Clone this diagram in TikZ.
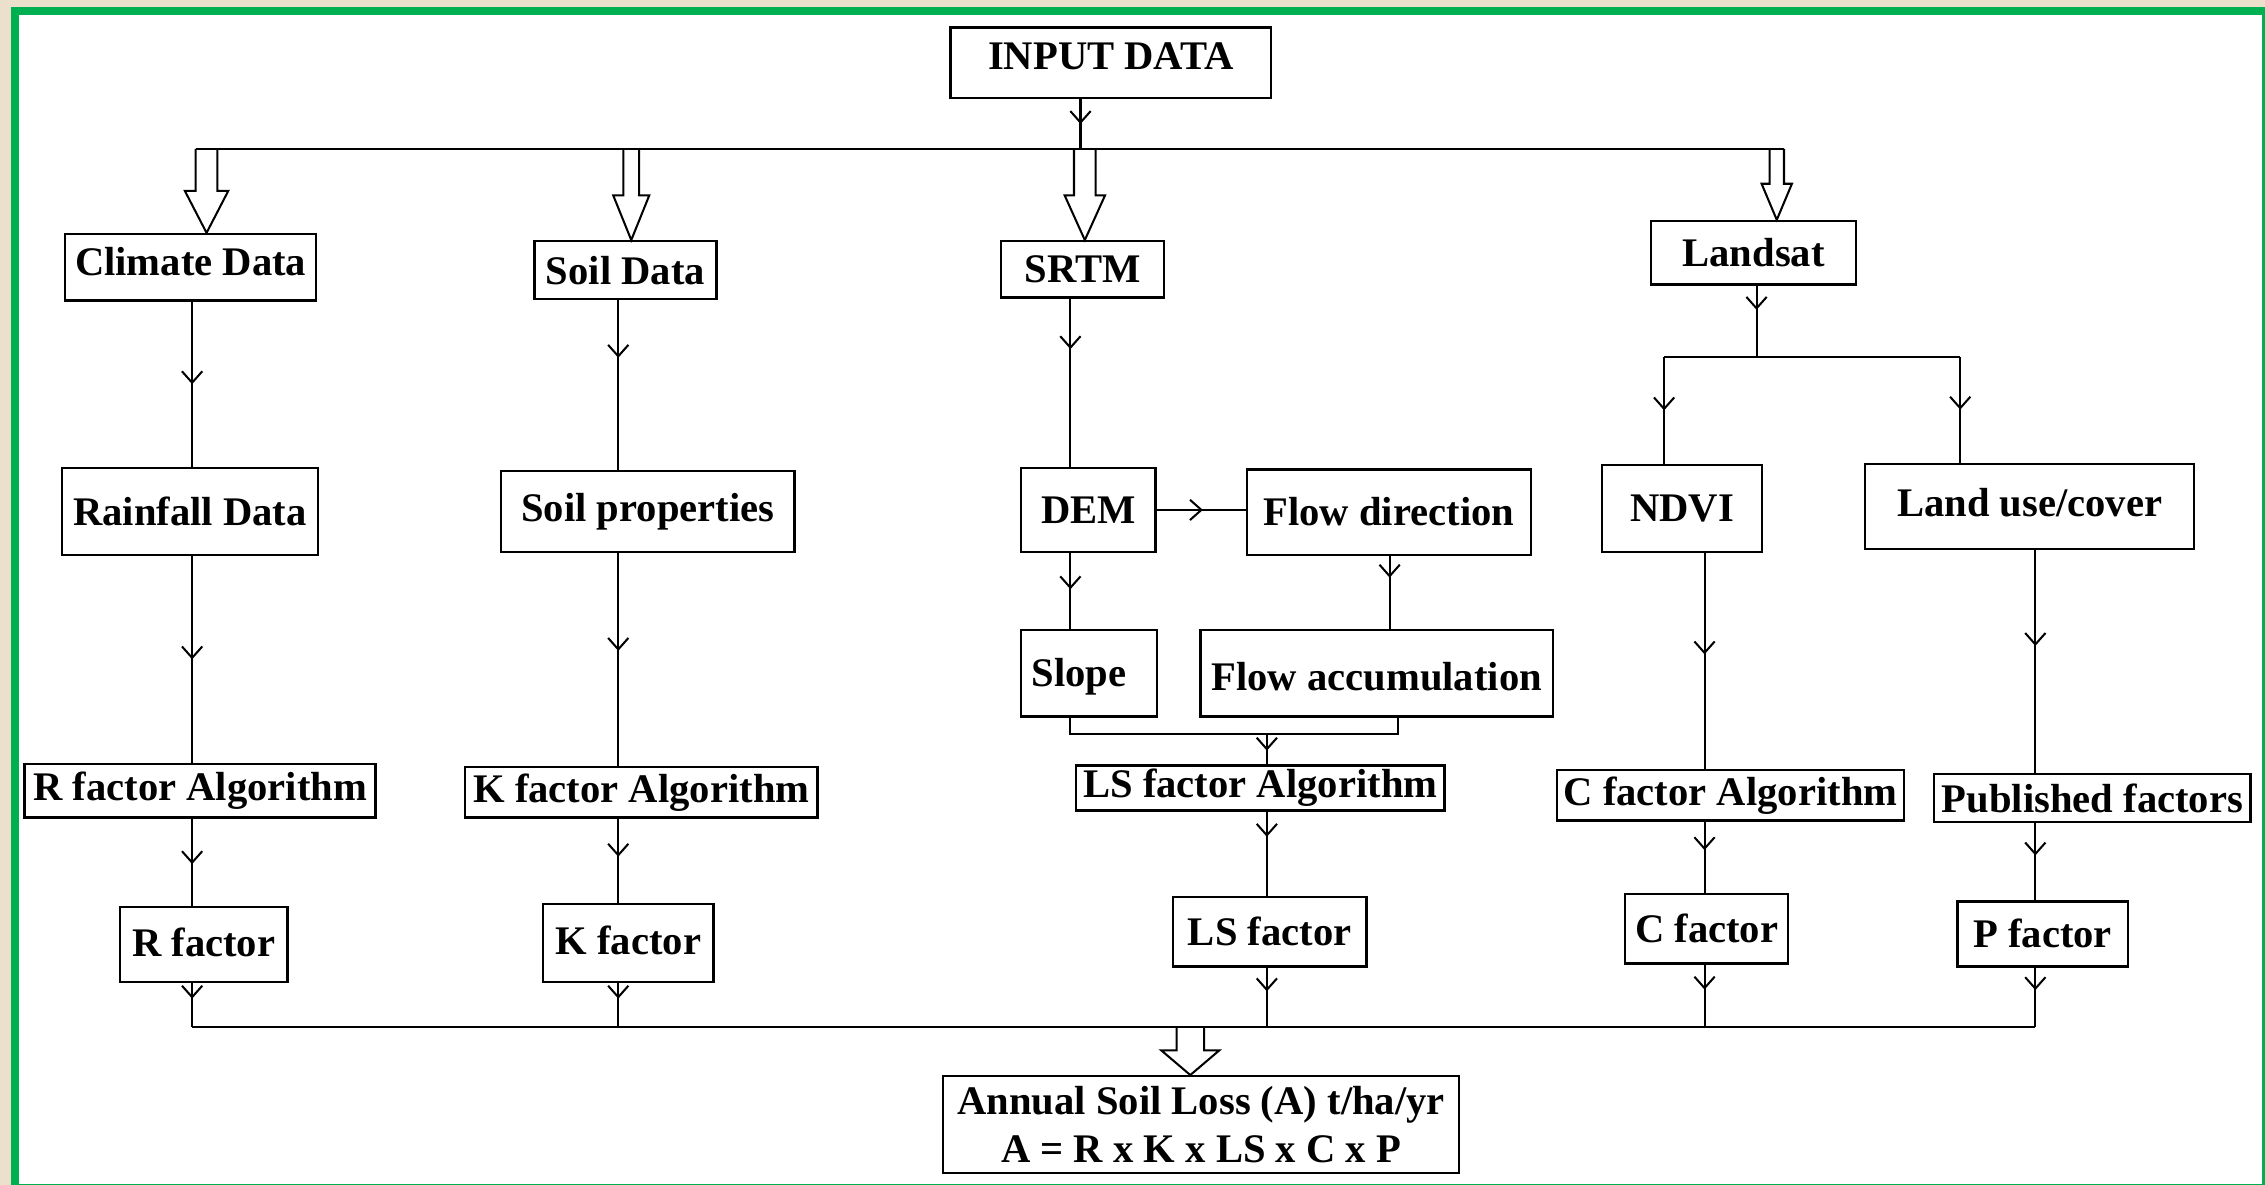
\documentclass[tikz,border=0pt]{standalone}
\usepackage{fontspec}
\setmainfont{Liberation Serif}
\usetikzlibrary{arrows.meta,calc,decorations.markings}
\definecolor{framegreen}{HTML}{00B050}
\definecolor{paper}{HTML}{EBE0CC}

\begin{document}
\begin{tikzpicture}[x=0.02cm, y=-0.02cm,
    font=\fontsize{16}{19}\selectfont\bfseries,
    >={Straight Barb[length=4.5pt,width=8pt]},
    line width=0.8pt,
    box/.style={draw, fill=white, line width=0.9pt, inner sep=1pt, align=center},
    mid/.style={postaction={decorate},
                decoration={markings, mark=at position #1 with {\arrow{>}}}},
    mid/.default=0.5,
    hollow/.style={draw, fill=white, line width=0.8pt}]

  %% ── Page and frame ──────────────────────────────────────────
  \useasboundingbox (0,0) rectangle (1568,820);
  \fill[paper] (0,0) rectangle (1568,820);
  \clip (0,0) rectangle (1568,820);
  \draw[framegreen, line width=0.11cm, fill=white] (10.35,7.6) rectangle (1568.75,822.3);

  %% ── Top: input ──────────────────────────────────────────────
  \node[box, minimum width=4.44cm, minimum height=0.98cm, text depth=0.2cm] (input) at (769,43.5) {INPUT DATA};

  %% ROW 1: data sources
  \node[box, minimum width=3.48cm, minimum height=0.92cm, text depth=0.16cm] (clim) at (132,185) {Climate Data};
  \node[box, minimum width=2.52cm, minimum height=0.80cm] (soil) at (433,187)    {Soil Data};
  \node[box, minimum width=2.26cm, minimum height=0.78cm] (srtm) at (749.5,186.5) {SRTM};
  \node[box, minimum width=2.84cm, minimum height=0.88cm] (land) at (1214,175)   {Landsat};

  %% ROW 2: derived layers
  \node[box, minimum width=3.54cm, minimum height=1.20cm] (rain)  at (131.5,354)  {Rainfall Data};
  \node[box, minimum width=4.06cm, minimum height=1.12cm] (sprop) at (448.5,354)  {Soil properties};
  \node[box, minimum width=1.86cm, minimum height=1.16cm] (dem)   at (753.5,353)  {DEM};
  \node[box, minimum width=3.94cm, minimum height=1.18cm] (fdir)  at (961.5,354.5) {Flow direction};
  \node[box, minimum width=2.22cm, minimum height=1.20cm] (ndvi)  at (1164.5,352) {NDVI};
  \node[box, minimum width=4.56cm, minimum height=1.18cm, text depth=0.12cm] (luse) at (1405,350.5) {Land use/cover};

  %% ROW 3: terrain
  \node[box, minimum width=1.88cm, minimum height=1.20cm, text height=0.5cm] (slope) at (754,466) {Slope\hspace*{0.28cm}};
  \node[box, minimum width=4.88cm, minimum height=1.20cm, text height=0.5cm] (facc)  at (953,466) {Flow accumulation};

  %% ROW 4: algorithms
  \node[box, minimum width=4.86cm, minimum height=0.74cm] (ralg)  at (138.5,547.5) {R factor Algorithm};
  \node[box, minimum width=4.88cm, minimum height=0.70cm] (kalg)  at (444,548.5)   {K factor Algorithm};
  \node[box, minimum width=5.10cm, minimum height=0.62cm] (lsalg) at (872.5,545.5) {LS factor Algorithm};
  \node[box, minimum width=4.80cm, minimum height=0.70cm] (calg)  at (1198,550.5)  {C factor Algorithm};
  \node[box, minimum width=4.38cm, minimum height=0.66cm] (pub)   at (1448.5,552.5) {Published factors};

  %% ROW 5: factors
  \node[box, minimum width=2.32cm, minimum height=1.04cm, text depth=0.08cm] (rfac) at (141,654) {R factor};
  \node[box, minimum width=2.36cm, minimum height=1.08cm, text depth=0.08cm] (kfac) at (435,653) {K factor};
  \node[box, minimum width=2.68cm, minimum height=0.96cm] (lsfac) at (879,645)    {LS factor};
  \node[box, minimum width=2.26cm, minimum height=0.96cm] (cfac)  at (1181.5,643) {C factor};
  \node[box, minimum width=2.36cm, minimum height=0.90cm] (pfac)  at (1414,646.5) {P factor};

  %% Result
  \node[box, minimum width=7.14cm, minimum height=1.34cm] (asl) at (831.5,778.5)
    {Annual Soil Loss (A) t/ha/yr\\A = R x K x LS x C x P};

  %% ── Columns and junctions ───────────────────────────────────
  \coordinate (c1) at (133,0);   \coordinate (c2) at (428,0);
  \coordinate (c3) at (741,0);   \coordinate (c4) at (877,0);
  \coordinate (c5) at (962,0);   \coordinate (c6) at (1180,0);
  \coordinate (c7) at (1409,0);  \coordinate (c8) at (1216,0);
  \coordinate (c9) at (968,0);
  \coordinate (top) at (748,103);
  \coordinate (b1) at (143,103); \coordinate (b2) at (437,103);
  \coordinate (b3) at (751,103); \coordinate (b4) at (1230,103);
  \coordinate (b5) at (824,711); \coordinate (bb) at (0,711);
  \coordinate (split) at (1216,247);
  \coordinate (sl) at (1152,247); \coordinate (sr) at (1357,247);
  \coordinate (m) at (877,508);

  %% Hollow block arrows
  \foreach \bp/\tg/\sw/\hw/\hl in {b1/clim/7.5/15/29, b2/soil/5.5/12.5/31,
                                   b3/srtm/7.5/14/31, b4/land/5/10.5/25, b5/asl/9.5/20/17}
    \draw[hollow] ($(\bp)+(-\sw,0)$) -- ($(\bp |- \tg.north)+(-\sw,-\hl)$)
      -- ($(\bp |- \tg.north)+(-\hw,-\hl)$) -- (\bp |- \tg.north)
      -- ($(\bp |- \tg.north)+(\hw,-\hl)$) -- ($(\bp |- \tg.north)+(\sw,-\hl)$)
      -- ($(\bp)+(\sw,0)$);

  %% Top bus
  \draw[mid] (input.south -| top) -- (top);
  \draw ($(b1)+(-7.5,0)$) -- ($(b4)+(5,0)$);

  %% Climate column
  \draw[mid]      (c1 |- clim.south) -- (c1 |- rain.north);
  \draw[mid]      (c1 |- rain.south) -- (c1 |- ralg.north);
  \draw[mid=0.52] (c1 |- ralg.south) -- (c1 |- rfac.north);
  \draw[mid=0.35] (c1 |- rfac.south) -- (c1 |- bb);

  %% Soil column
  \draw[mid=0.34] (c2 |- soil.south)  -- (c2 |- sprop.north);
  \draw[mid=0.46] (c2 |- sprop.south) -- (c2 |- kalg.north);
  \draw[mid=0.45] (c2 |- kalg.south)  -- (c2 |- kfac.north);
  \draw[mid=0.35] (c2 |- kfac.south)  -- (c2 |- bb);

  %% SRTM column
  \draw[mid=0.3]  (c3 |- srtm.south) -- (c3 |- dem.north);
  \draw[mid=0.52] (dem.east) -- (dem.east -| fdir.west);
  \draw[mid=0.48] (c3 |- dem.south) -- (c3 |- slope.north);
  \draw[mid=0.3]  (c5 |- fdir.south) -- (c5 |- facc.north);
  \draw (c3 |- slope.south) -- (c3 |- m) -- (c9 |- m) -- (c9 |- facc.south);
  \draw[mid=0.55] (m) -- (m |- lsalg.north);
  \draw[mid=0.3]  (c4 |- lsalg.south) -- (c4 |- lsfac.north);
  \draw[mid=0.4]  (c4 |- lsfac.south) -- (c4 |- bb);

  %% Landsat column
  \draw[mid=0.34] (c8 |- land.south) -- (split);
  \draw (sl) -- (sr);
  \draw[mid] (sl) -- (sl |- ndvi.north);
  \draw[mid] (sr) -- (sr |- luse.north);
  \draw[mid=0.47] (c6 |- ndvi.south) -- (c6 |- calg.north);
  \draw[mid=0.4]  (c6 |- calg.south) -- (c6 |- cfac.north);
  \draw[mid=0.4]  (c6 |- cfac.south) -- (c6 |- bb);
  \draw[mid=0.43] (c7 |- luse.south) -- (c7 |- pub.north);
  \draw[mid=0.42] (c7 |- pub.south)  -- (c7 |- pfac.north);
  \draw[mid=0.38] (c7 |- pfac.south) -- (c7 |- bb);

  %% Bottom bus
  \draw (c1 |- bb) -- (c7 |- bb);

\end{tikzpicture}
\end{document}
